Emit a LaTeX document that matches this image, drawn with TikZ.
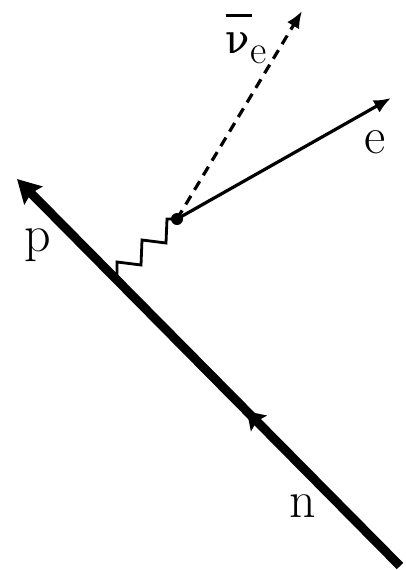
\documentclass[tikz,border=0pt]{standalone}
\usepackage{fontspec}
\newfontfamily\greekfont{DejaVu Serif}
\usetikzlibrary{arrows.meta,decorations.markings}
\begin{document}
\begin{tikzpicture}[x=1pt,y=-1pt,
	lbl/.style={font=\fontsize{52}{54}\selectfont, anchor=base, inner sep=0pt},
	nucleon/.style={line width=9pt, -{Stealth[length=23pt,width=25pt,inset=3pt]}},
	lepton/.style={line width=3.2pt, -{Latex[length=17pt,width=14pt]}}]
	\newcommand{\wlen}{24}
	\newcommand{\wstep}{24}
	\useasboundingbox (0,0) rectangle (405,570);
	%points
	\coordinate (nin) at (400,566);
	\coordinate (pout) at (17,179);
	\coordinate (vnuc) at (117,276);
	\coordinate (vlep) at (177,219);
	\coordinate (eout) at (391,98);
	\coordinate (nuout) at (302,11);
	%nucleon line
	\draw [nucleon, postaction={decorate}, decoration={markings,
		mark=at position 0.4 with {\arrow{Stealth[length=17pt,width=22pt,inset=3pt]}}}]
		(nin) -- (pout);
	%W propagator
	\draw [line width=2.8pt, line join=miter] (vnuc) -- ++(0,-14) -- ++(\wlen,3)
		-- ++(1,-\wstep-1) -- ++(\wlen,3) -- ++(1,-\wstep) |- (vlep);
	%leptons
	\draw [lepton] (vlep) -- (eout);
	\draw [lepton, dash pattern=on 10pt off 7pt] (vlep) -- (nuout);
	\fill (vlep) circle (6);
	%labels
	\node (plbl) [lbl] at (38,251) {p};
	\node (nlbl) [lbl] at (303,517) {n};
	\node (elbl) [lbl] at (375,153) {e};
	\node (nulbl) [lbl] at (246,53) {\rlap{\raisebox{36pt}{\rule{26pt}{3pt}}}{\greekfont\fontsize{40}{42}\selectfont ν}\raisebox{-10pt}{\fontsize{40}{42}\selectfont e}};
\end{tikzpicture}
\end{document}
